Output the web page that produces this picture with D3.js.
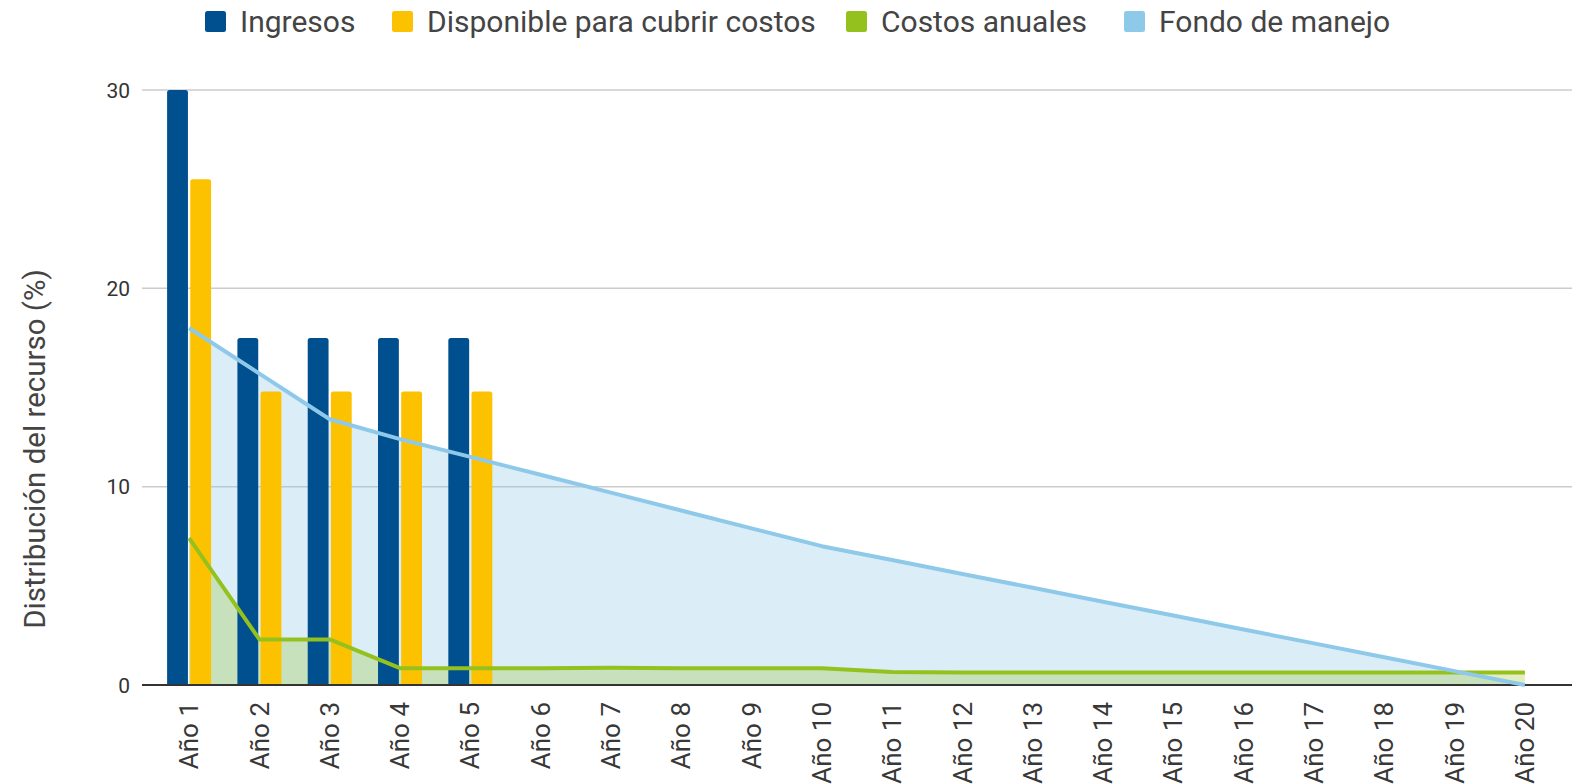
<!DOCTYPE html>
<html>
<head>
<meta charset="utf-8">
<script src="https://cdn.jsdelivr.net/npm/d3@7"></script>
<style>
  html, body { margin: 0; padding: 0; background: #fff; }
  svg { display: block; font-family: Roboto, "Noto Sans", sans-serif; }
</style>
</head>
<body>
<svg id="chart" width="1583" height="784"></svg>
<script>
const categories = ["Año 1","Año 2","Año 3","Año 4","Año 5","Año 6","Año 7","Año 8","Año 9","Año 10",
  "Año 11","Año 12","Año 13","Año 14","Año 15","Año 16","Año 17","Año 18","Año 19","Año 20"];
const barCategories = ["Año 1","Año 2","Año 3","Año 4","Año 5"];
const ingresos = [30, 17.5, 17.5, 17.5, 17.5];
const disponible = [25.5, 14.8, 14.8, 14.8, 14.8];
const costosAnuales = [7.4, 2.3, 2.3, 0.85, 0.85, 0.85, 0.87, 0.85, 0.85, 0.85,
  0.65, 0.63, 0.63, 0.63, 0.63, 0.63, 0.63, 0.63, 0.63, 0.63];
const fondoManejo = [18.0, 15.7, 13.4, 12.4, 11.5, 10.6, 9.7, 8.8, 7.9, 7.0,
  6.3, 5.6, 4.9, 4.2, 3.5, 2.8, 2.1, 1.4, 0.7, 0];
const yTicks = [0, 10, 20, 30];
const seriesNames = ["Ingresos", "Disponible para cubrir costos", "Costos anuales", "Fondo de manejo"];
const colors = ["#004f8e", "#fcc200", "#95c11f", "#8ec9ea"];

const svg = d3.select("#chart");
const plotLeft = 142, plotRight = 1572, plotTop = 90, plotBottom = 685;

const x = d3.scalePoint().domain(categories).range([plotLeft, plotRight]).padding(0.67);
const y = d3.scaleLinear().domain([0, 30]).range([plotBottom, plotTop]);
const xb = d3.scaleBand().domain([0, 1]).range([-22, 22]).paddingInner(0.1);

// gridlines
svg.append("g").selectAll("line").data(yTicks.filter(d => d > 0)).join("line")
  .attr("x1", plotLeft).attr("x2", plotRight)
  .attr("y1", d => y(d)).attr("y2", d => y(d))
  .attr("stroke", "#cccccc").attr("stroke-width", 1.5);

// y tick labels
svg.append("g").selectAll("text").data(yTicks).join("text")
  .attr("x", 130).attr("y", d => y(d)).attr("dy", "0.36em")
  .attr("text-anchor", "end").attr("font-size", 21).attr("fill", "#333")
  .text(d => d);

// areas
const areaGen = d3.area().x((d, i) => x(categories[i])).y0(y(0)).y1(d => y(d));
svg.append("path").datum(fondoManejo).attr("d", areaGen)
  .attr("fill", colors[3]).attr("fill-opacity", 0.32);
svg.append("path").datum(costosAnuales).attr("d", areaGen)
  .attr("fill", colors[2]).attr("fill-opacity", 0.27);

// bars
const barSeries = [ingresos, disponible];
barSeries.forEach((vals, si) => {
  svg.append("g").selectAll("path").data(vals).join("path")
    .attr("fill", colors[si])
    .attr("d", (d, i) => {
      const x0 = x(barCategories[i]) + xb(si), w = xb.bandwidth();
      const yt = y(d), yb = y(0), r = 2.5;
      return `M${x0},${yb}V${yt + r}Q${x0},${yt} ${x0 + r},${yt}H${x0 + w - r}Q${x0 + w},${yt} ${x0 + w},${yt + r}V${yb}Z`;
    });
});

// baseline
svg.append("line").attr("x1", plotLeft).attr("x2", plotRight)
  .attr("y1", y(0)).attr("y2", y(0)).attr("stroke", "#333").attr("stroke-width", 2);

// lines
const lineGen = d3.line().x((d, i) => x(categories[i])).y(d => y(d));
svg.append("path").datum(costosAnuales).attr("d", lineGen)
  .attr("fill", "none").attr("stroke", colors[2]).attr("stroke-width", 4).attr("stroke-linejoin", "round");
svg.append("path").datum(fondoManejo).attr("d", lineGen)
  .attr("fill", "none").attr("stroke", colors[3]).attr("stroke-width", 4).attr("stroke-linejoin", "round");

// x labels
svg.append("g").selectAll("text").data(categories).join("text")
  .attr("transform", d => `translate(${x(d)},702) rotate(-90)`)
  .attr("text-anchor", "end").attr("dy", "0.35em")
  .attr("font-size", 26).attr("fill", "#383838")
  .text(d => d);

// y title
svg.append("text")
  .attr("transform", "translate(35,449) rotate(-90)")
  .attr("text-anchor", "middle").attr("dy", "0.35em")
  .attr("font-size", 29.5).attr("fill", "#444")
  .text("Distribución del recurso (%)");

// legend
const legendX = [205, 392, 846, 1124];
const lg = svg.append("g").selectAll("g").data(seriesNames).join("g")
  .attr("transform", (d, i) => `translate(${legendX[i]},0)`);
lg.append("rect").attr("x", 0).attr("y", 11).attr("width", 21).attr("height", 21).attr("rx", 2.5)
  .attr("fill", (d, i) => colors[i]);
lg.append("text").attr("x", 35).attr("y", 21.5).attr("dy", "0.35em")
  .attr("font-size", 30).attr("fill", "#444").text(d => d);
</script>
</body>
</html>
